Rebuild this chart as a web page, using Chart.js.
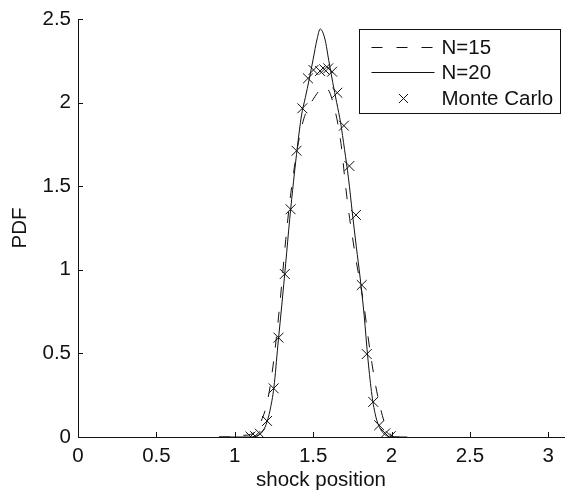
<!DOCTYPE html>
<html>
<head>
<meta charset="utf-8">
<script src="https://cdn.jsdelivr.net/npm/chart.js@4/dist/chart.umd.min.js"></script>
<style>
  html, body { margin: 0; padding: 0; background: #fff; }
  #wrap { width: 572px; height: 493px; }
</style>
</head>
<body>
<div id="wrap"><canvas id="pdfChart" width="572" height="493"></canvas></div>
<script>
// shock position PDF
const n15X = [0.9, 0.98, 0.995, 1.05, 1.1, 1.125, 1.15, 1.175, 1.2, 1.225, 1.25, 1.275, 1.3, 1.325, 1.35, 1.375, 1.4, 1.425, 1.45, 1.475, 1.5, 1.525, 1.55, 1.565, 1.59, 1.61, 1.635, 1.66, 1.685, 1.7, 1.725, 1.75, 1.775, 1.8, 1.825, 1.85, 1.875, 1.9, 1.925, 1.95, 1.975, 2.0, 2.025, 2.1];
const n15Y = [0, 0, 0.012, 0.01, 0.015, 0.03, 0.06, 0.11, 0.18, 0.3, 0.47, 0.68, 0.92, 1.18, 1.4, 1.58, 1.73, 1.85, 1.93, 1.98, 2.02, 2.055, 2.085, 2.095, 2.085, 2.05, 1.97, 1.86, 1.7, 1.56, 1.36, 1.2, 1.05, 0.92, 0.78, 0.6, 0.44, 0.3, 0.19, 0.1, 0.04, 0.01, 0, 0];

const n20X = [0.9, 1.0, 1.1, 1.125, 1.15, 1.175, 1.2, 1.225, 1.25, 1.275, 1.3, 1.325, 1.35, 1.375, 1.4, 1.425, 1.45, 1.475, 1.5, 1.525, 1.545, 1.575, 1.6, 1.625, 1.65, 1.675, 1.7, 1.725, 1.75, 1.775, 1.8, 1.825, 1.85, 1.875, 1.9, 1.925, 1.95, 1.975, 2.0, 2.1];
const n20Y = [0, 0, 0, 0.003, 0.01, 0.03, 0.075, 0.16, 0.3, 0.55, 0.79, 1.04, 1.3, 1.53, 1.74, 1.92, 2.03, 2.14, 2.26, 2.38, 2.44, 2.38, 2.25, 2.12, 2.0, 1.88, 1.72, 1.55, 1.34, 1.14, 0.95, 0.73, 0.46, 0.25, 0.12, 0.055, 0.02, 0.005, 0, 0];

const mcX = [1.1, 1.13, 1.16, 1.206, 1.248, 1.279, 1.319, 1.356, 1.394, 1.431, 1.467, 1.502, 1.544, 1.571, 1.596, 1.621, 1.654, 1.696, 1.731, 1.773, 1.81, 1.842, 1.883, 1.921, 1.96, 1.995];
const mcY = [0.003, 0.005, 0.02, 0.096, 0.291, 0.594, 0.975, 1.362, 1.712, 1.966, 2.145, 2.195, 2.189, 2.199, 2.205, 2.185, 2.059, 1.862, 1.621, 1.328, 0.909, 0.496, 0.21, 0.07, 0.022, 0.005];

const xTicks = [0, 0.5, 1, 1.5, 2, 2.5, 3];
const yTicks = [0, 0.5, 1, 1.5, 2, 2.5];

const FONT = "'Liberation Sans', Arial, sans-serif";
const FSIZE = 20.5;
const INK = "#111";

function toPoints(xs, ys) {
  return xs.map((x, i) => ({ x: x, y: ys[i] }));
}

// matlab style ticks pointing into the plot
const innerTicks = {
  id: "innerTicks",
  afterDraw(chart) {
    const { ctx, chartArea, scales } = chart;
    ctx.save();
    ctx.strokeStyle = INK;
    ctx.lineWidth = 1;
    ctx.beginPath();
    xTicks.forEach(v => {
      const px = Math.round(scales.x.getPixelForValue(v)) + 0.5;
      ctx.moveTo(px, chartArea.bottom);
      ctx.lineTo(px, chartArea.bottom - 5);
    });
    yTicks.forEach(v => {
      const py = Math.round(scales.y.getPixelForValue(v)) + 0.5;
      ctx.moveTo(chartArea.left, py);
      ctx.lineTo(chartArea.left + 5, py);
    });
    ctx.stroke();
    ctx.restore();
  }
};

// boxed legend in the upper right corner
const boxLegend = {
  id: "boxLegend",
  afterDraw(chart) {
    const { ctx, chartArea } = chart;
    const sets = chart.data.datasets;
    ctx.save();
    ctx.font = FSIZE + "px " + FONT;
    const textW = Math.max(...sets.map(d => ctx.measureText(d.label).width));
    const w = Math.round(82 + textW + 7);
    const h = 84;
    const left = Math.round(chartArea.right - 4 - w) + 0.5;
    const top = Math.round(chartArea.top + 10) + 0.5;
    ctx.fillStyle = "#fff";
    ctx.fillRect(left, top, w, h);
    ctx.strokeStyle = INK;
    ctx.lineWidth = 1;
    ctx.strokeRect(left, top, w, h);
    sets.forEach((d, i) => {
      const cy = Math.round(top + 17 + i * 25.5) + 0.5;
      ctx.strokeStyle = INK;
      if (d.showLine) {
        ctx.setLineDash(d.borderDash || []);
        ctx.beginPath();
        ctx.moveTo(left + 12, cy);
        ctx.lineTo(left + 75, cy);
        ctx.stroke();
        ctx.setLineDash([]);
      } else {
        const cx = left + 44, r = 4.5;
        ctx.beginPath();
        ctx.moveTo(cx - r, cy - r); ctx.lineTo(cx + r, cy + r);
        ctx.moveTo(cx - r, cy + r); ctx.lineTo(cx + r, cy - r);
        ctx.stroke();
      }
      ctx.fillStyle = INK;
      ctx.textBaseline = "middle";
      ctx.textAlign = "left";
      ctx.fillText(d.label, left + 82, cy + 1);
    });
    ctx.restore();
  }
};

new Chart(document.getElementById("pdfChart"), {
  type: "scatter",
  data: {
    datasets: [
      {
        label: "N=15",
        data: toPoints(n15X, n15Y),
        showLine: true,
        borderColor: INK,
        borderWidth: 1,
        borderDash: [11, 14],
        pointRadius: 0,
        cubicInterpolationMode: "monotone"
      },
      {
        label: "N=20",
        data: toPoints(n20X, n20Y),
        showLine: true,
        borderColor: INK,
        borderWidth: 1,
        pointRadius: 0,
        cubicInterpolationMode: "monotone"
      },
      {
        label: "Monte Carlo",
        data: toPoints(mcX, mcY),
        showLine: false,
        pointStyle: "crossRot",
        pointRadius: 7,
        borderColor: INK,
        backgroundColor: INK,
        borderWidth: 1
      }
    ]
  },
  options: {
    responsive: false,
    animation: false,
    devicePixelRatio: 1,
    layout: { padding: { left: 0, right: 0, top: 19, bottom: 0 } },
    plugins: {
      legend: { display: false },
      tooltip: { enabled: false }
    },
    scales: {
      x: {
        type: "linear",
        min: 0,
        max: 3.1,
        afterBuildTicks: s => { s.ticks = xTicks.map(v => ({ value: v })); },
        afterFit: s => { s.height = 56; },
        ticks: {
          color: INK,
          font: { family: FONT, size: FSIZE, lineHeight: 1 },
          padding: 9,
          maxRotation: 0,
          callback: v => String(v)
        },
        grid: { display: false, drawTicks: false },
        border: { display: true, color: INK, width: 1 },
        title: {
          display: true,
          text: "shock position",
          color: INK,
          font: { family: FONT, size: FSIZE, lineHeight: 1 },
          padding: { top: 4, bottom: 2 }
        }
      },
      y: {
        type: "linear",
        min: 0,
        max: 2.5,
        afterBuildTicks: s => { s.ticks = yTicks.map(v => ({ value: v })); },
        afterFit: s => { s.width = 78; },
        ticks: {
          color: INK,
          font: { family: FONT, size: FSIZE, lineHeight: 1 },
          padding: 7,
          callback: v => String(v)
        },
        grid: { display: false, drawTicks: false },
        border: { display: true, color: INK, width: 1 },
        title: {
          display: true,
          text: "PDF",
          color: INK,
          font: { family: FONT, size: FSIZE, lineHeight: 1 },
          padding: { top: 10, bottom: 0 }
        }
      }
    }
  },
  plugins: [innerTicks, boxLegend]
});
</script>
</body>
</html>
